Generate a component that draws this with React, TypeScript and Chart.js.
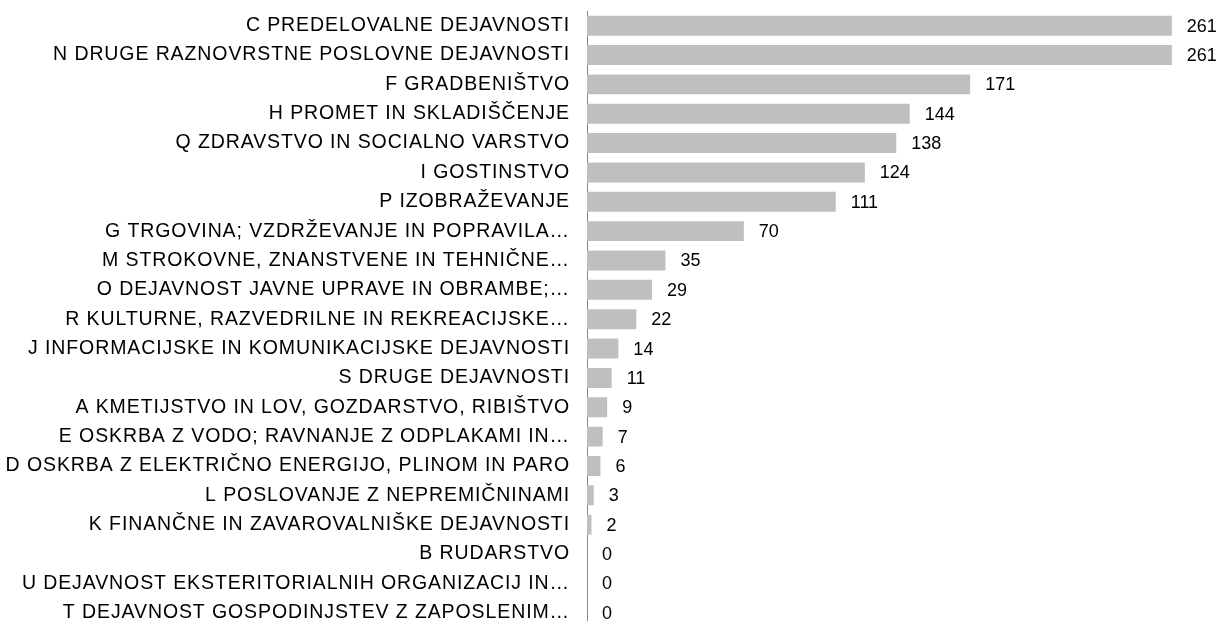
import React, { useEffect, useRef } from "react";
import { Chart, registerables } from "chart.js";

Chart.register(...registerables);

const categories: string[] = [
  "C PREDELOVALNE DEJAVNOSTI",
  "N DRUGE RAZNOVRSTNE POSLOVNE DEJAVNOSTI",
  "F GRADBENIŠTVO",
  "H PROMET IN SKLADIŠČENJE",
  "Q ZDRAVSTVO IN SOCIALNO VARSTVO",
  "I GOSTINSTVO",
  "P IZOBRAŽEVANJE",
  "G TRGOVINA; VZDRŽEVANJE IN POPRAVILA…",
  "M STROKOVNE, ZNANSTVENE IN TEHNIČNE…",
  "O DEJAVNOST JAVNE UPRAVE IN OBRAMBE;…",
  "R KULTURNE, RAZVEDRILNE IN REKREACIJSKE…",
  "J INFORMACIJSKE IN KOMUNIKACIJSKE DEJAVNOSTI",
  "S DRUGE DEJAVNOSTI",
  "A KMETIJSTVO IN LOV, GOZDARSTVO, RIBIŠTVO",
  "E OSKRBA Z VODO; RAVNANJE Z ODPLAKAMI IN…",
  "D OSKRBA Z ELEKTRIČNO ENERGIJO, PLINOM IN PARO",
  "L POSLOVANJE Z NEPREMIČNINAMI",
  "K FINANČNE IN ZAVAROVALNIŠKE DEJAVNOSTI",
  "B RUDARSTVO",
  "U DEJAVNOST EKSTERITORIALNIH ORGANIZACIJ IN…",
  "T DEJAVNOST GOSPODINJSTEV Z ZAPOSLENIM…",
];

const values: number[] = [261, 261, 171, 144, 138, 124, 111, 70, 35, 29, 22, 14, 11, 9, 7, 6, 3, 2, 0, 0, 0];

const xMin = 0;
const xMax = 270;

const valueLabelPlugin = {
  id: "valueLabels",
  afterDatasetsDraw(chart: any) {
    const ctx = chart.ctx;
    const meta = chart.getDatasetMeta(0);
    ctx.save();
    (ctx as any).letterSpacing = "0px";
    ctx.font = '18px "Liberation Sans", Arial, sans-serif';
    ctx.fillStyle = "#000000";
    ctx.textAlign = "left";
    ctx.textBaseline = "middle";
    meta.data.forEach((bar: any, i: number) => {
      ctx.fillText(String(values[i]), bar.x + 15, bar.y + 1);
    });
    ctx.restore();
  },
};

const spacingPlugin = {
  id: "letterSpacing",
  beforeDraw(chart: any) {
    (chart.ctx as any).letterSpacing = "0.9px";
  },
};

export default function App() {
  const ref = useRef<HTMLCanvasElement | null>(null);
  useEffect(() => {
    if (!ref.current) return;
    const chart = new Chart(ref.current, {
      type: "bar",
      data: {
        labels: categories,
        datasets: [
          {
            data: values,
            backgroundColor: "#bfbfbf",
            borderWidth: 0,
            barPercentage: 0.68,
            categoryPercentage: 1,
          },
        ],
      },
      options: {
        indexAxis: "y",
        responsive: false,
        animation: false,
        layout: { padding: { left: 0, right: 29, top: 11, bottom: 12.6 } },
        plugins: {
          legend: { display: false },
          tooltip: { enabled: false },
          title: { display: false },
        },
        scales: {
          x: { display: false, min: xMin, max: xMax },
          y: {
            afterFit: (s: any) => {
              s.width = 587;
              s.paddingTop = 0;
              s.paddingBottom = 0;
            },
            grid: { display: false, drawTicks: false },
            border: { display: true, color: "#868686", width: 1 },
            ticks: {
              autoSkip: false,
              padding: 17,
              color: "#000000",
              font: { family: '"Liberation Sans", Arial, sans-serif', size: 19.5 },
            },
          },
        },
      },
      plugins: [spacingPlugin, valueLabelPlugin],
    });
    return () => chart.destroy();
  }, []);
  return (
    <div style={{ position: "absolute", left: 0, top: 0, width: 1221, height: 640, background: "#ffffff" }}>
      <canvas ref={ref} width={1221} height={640} style={{ display: "block" }} />
    </div>
  );
}
